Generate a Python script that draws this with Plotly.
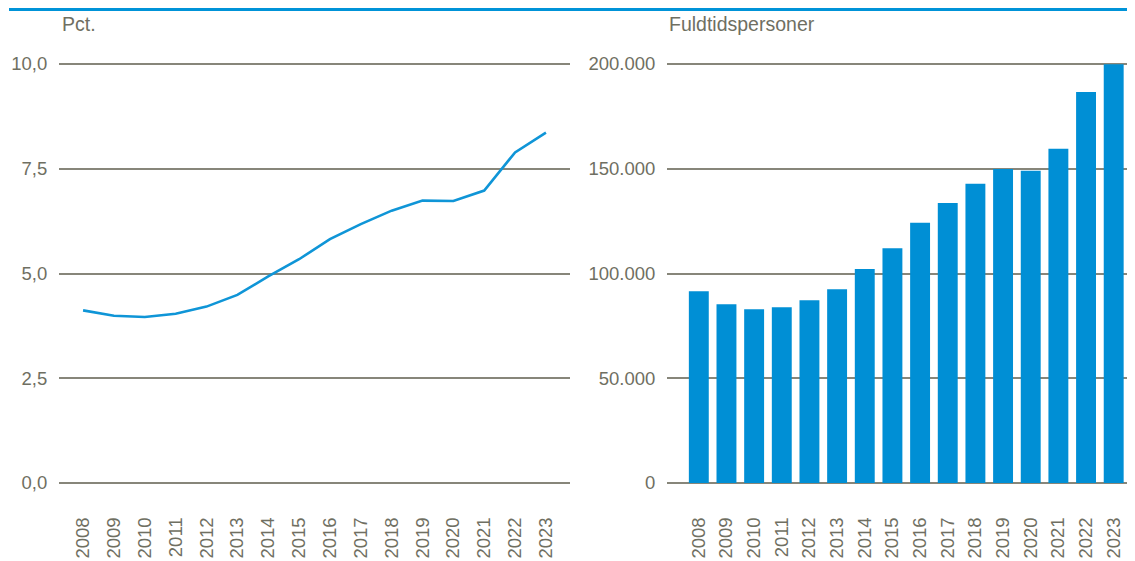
import plotly.graph_objects as go

years = [str(y) for y in range(2008, 2024)]
pct_values = [4.12, 3.99, 3.96, 4.04, 4.21, 4.49, 4.93, 5.34, 5.82, 6.18, 6.50, 6.74, 6.73, 6.98, 7.89, 8.36]
fte_values = [91500, 85300, 82900, 83900, 87200, 92500, 102100, 112100, 124200, 133700, 142800, 149900, 149000, 159600, 186600, 199900]
left_ticks = [0, 2.5, 5, 7.5, 10]
right_ticks = [0, 50000, 100000, 150000, 200000]
left_title = "Pct."
right_title = "Fuldtidspersoner"

W, H = 1127, 553
OFF = 8  # page body margin
BLUE = "#008fd5"
TXT = "#6f6f62"
GRID = "#87867a"
FONT = "Arial, Liberation Sans, sans-serif"

def px_x(p):
    return (p - OFF) / W

def px_y(p):
    return 1 - (p - OFF) / H

fig = go.Figure()
fig.add_trace(go.Scatter(x=list(range(len(years))), y=pct_values, mode="lines",
                         line=dict(color="#0f95d7", width=2.6), xaxis="x", yaxis="y",
                         showlegend=False, hoverinfo="skip"))
fig.add_trace(go.Bar(x=list(range(len(years))), y=fte_values, marker=dict(color=BLUE, line=dict(width=0)),
                     width=0.72, xaxis="x2", yaxis="y2", showlegend=False, hoverinfo="skip"))

ydom = [px_y(484), px_y(63)]
xaxis_common = dict(tickmode="array", tickvals=list(range(len(years))), ticktext=years,
                    tickangle=-90, ticks="outside", ticklen=25, tickcolor="rgba(0,0,0,0)",
                    showgrid=False, zeroline=False, showline=False, automargin=False,
                    tickfont=dict(family=FONT, size=18.5, color=TXT))
yaxis_common = dict(showgrid=True, gridcolor=GRID, gridwidth=1.5, zeroline=False, showline=False,
                    ticks="outside", ticklen=7, tickcolor="rgba(0,0,0,0)", automargin=False,
                    tickfont=dict(family=FONT, size=18.5, color=TXT), domain=ydom)

fig.update_layout(
    width=W, height=H, margin=dict(l=0, r=0, t=0, b=0, autoexpand=False),
    paper_bgcolor="white", plot_bgcolor="white", separators=",.",
    xaxis=dict(domain=[px_x(59), px_x(570)], range=[-0.78, 15.78], anchor="y", **xaxis_common),
    yaxis=dict(range=[-0.024, 10.024], tickvals=left_ticks, tickformat=".1f", anchor="x", **yaxis_common),
    xaxis2=dict(domain=[px_x(667), px_x(1135)], range=[-1.15, 15.77], anchor="y2", **xaxis_common),
    yaxis2=dict(range=[-480, 200480], tickvals=right_ticks, tickformat=",d", anchor="x2", **yaxis_common),
    shapes=[dict(type="line", xref="paper", yref="paper", x0=px_x(9), x1=px_x(1135),
                 y0=px_y(9.5), y1=px_y(9.5), line=dict(color="#0093d8", width=3))],
    annotations=[
        dict(text=left_title, xref="paper", yref="paper", x=px_x(60), y=px_y(24),
             xanchor="left", yanchor="middle", showarrow=False,
             font=dict(family=FONT, size=19.5, color=TXT)),
        dict(text=right_title, xref="paper", yref="paper", x=px_x(667), y=px_y(24),
             xanchor="left", yanchor="middle", showarrow=False,
             font=dict(family=FONT, size=19.5, color=TXT)),
    ],
)

fig.write_html("out.html")
